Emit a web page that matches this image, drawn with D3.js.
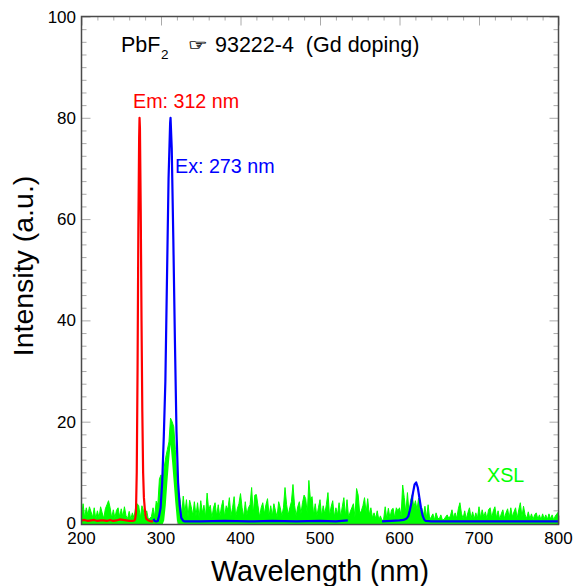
<!DOCTYPE html>
<html>
<head>
<meta charset="utf-8">
<script src="https://cdn.jsdelivr.net/npm/d3@7"></script>
<style>
html, body { margin: 0; background: #fff; }
text { font-family: "Liberation Sans", Arial, sans-serif; white-space: pre; }
</style>
</head>
<body>
<svg id="chart" width="574" height="586"></svg>
<script>
// XSL spectrum, one reading every 2 nm from 200 nm (20 readings a row)
const xslStart = 200, xslStep = 2;
const xslValues = [
  1.2,3.8,1.0,3.0,1.6,3.2,2.2,1.1,3.0,0.8, 2.4,1.0,3.2,2.0,0.9,2.8,3.6,4.4,3.0,1.0,
  2.6,1.0,2.5,3.0,1.2,2.8,1.2,3.2,1.4,0.9, 2.3,0.7,2.0,1.0,3.0,3.8,3.4,1.0,3.4,2.4,
  1.0,2.4,0.8,0.9,1.3,3.0,1.2,4.3,3.6,8.7, 9.5,7.0,11.0,13,14.5,16,20.7,20,19,14.5,
  8,6,4.6,1.6,5.3,2.0,4.6,1.2,4.5,3.2, 1.5,4.2,1.4,4.0,1.0,4.4,2.0,3.5,1.2,5.9,
  2.5,3.5,1.0,3.0,4.0,1.4,3.6,1.2,3.2,4.5, 1.2,3.4,2.6,5.0,1.4,3.0,5.2,1.2,2.8,3.8,
  5.8,3.0,1.2,4.2,1.6,3.0,3.6,7.0,1.8,5.5, 5.6,3.4,1.2,3.0,4.0,1.8,3.6,4.8,1.4,3.4,
  1.4,3.8,2.4,1.2,4.2,3.0,1.4,3.0,7.0,3.6, 1.6,3.0,4.2,7.6,3.5,1.4,3.2,4.2,1.8,4.0,
  5.5,4.8,1.8,8.4,4.6,5.2,1.6,3.8,1.4,3.0, 4.6,1.4,3.4,1.8,3.6,6.0,1.4,3.2,4.4,1.2,
  3.0,1.6,4.0,1.2,3.2,5.0,1.4,4.6,1.0,2.2, 3.0,3.8,1.2,6.8,5.5,1.8,2.4,3.4,5.0,2.0,
  4.8,1.6,3.0,1.0,2.0,0.9,2.4,0.6,1.4,0.5, 0.7,3.2,0.8,2.9,1.0,2.6,2.9,1.0,3.0,2.4,
  3.0,1.4,7.5,5.0,2.0,6.0,2.0,4.5,5.6,3.0, 4.4,2.6,4.9,2.2,3.0,1.4,3.3,1.0,3.6,0.7,
  1.2,1.8,0.6,2.0,1.0,0.8,1.6,0.6,0.7,1.2, 1.6,0.9,1.4,2.6,1.0,2.0,0.9,2.8,4.0,1.8,
  0.9,2.4,0.8,2.0,3.0,0.9,2.2,0.8,2.0,0.9, 3.2,1.0,2.6,1.2,2.2,0.8,2.6,3.0,1.0,2.4,
  3.2,1.0,2.4,0.7,1.8,2.6,0.9,2.0,2.8,1.0, 3.0,1.2,2.2,3.0,0.9,2.6,4.0,1.2,3.3,1.6,
  0.9,2.2,0.8,1.8,0.7,1.6,2.0,0.8,1.6,0.6, 1.8,0.8,1.6,0.7,1.8,0.8,1.6,0.6,1.4,1.8,
  2.2
];

// the XSL peak is hollow: lower edge of the green band under it
const xslHollowWavelength = [304,306,308,310,312,314,316,318,320];
const xslHollowValues = [0.5,3.5,8,12,15.5,12,8,4,0.5];

const emWavelength = [200,204,208,212,216,220,224,228,232,236,240,244,248,252,256,260,264,266.5,267.5,268.5,269.5,270.5,271.5,272.5,273,273.5,274.5,275.5,276.5,277.5,278.5,279.5,280.5,281.5,284,286,288,290];
const emValues = [0.5,0.6,0.4,0.5,0.6,0.4,0.5,0.5,0.4,0.6,0.4,0.5,0.7,0.6,0.5,0.4,0.4,0.5,0.8,2,10,30,58,76,80,78,62,40,22,10,5,3,1.5,0.8,0.5,0.4,0.3,0.3];

const exWavelength = [290.5,292,294,296,296.5,297.5,299.5,301.5,303.5,305.5,307.5,309.5,311.5,312,313.5,315.5,317.5,319.5,321.5,323.5,325.5,328,330,350,380,410,440,470,500,520,535];
const exValues = [0.8,0.4,0.3,0.4,0.8,1.3,3,8,17,28,48,68,79,80,74,56,36,18,8,3.5,1,0.4,0.3,0.3,0.4,0.3,0.4,0.3,0.4,0.3,0.5];
const exWavelength2 = [578,590,600,605,609,611,613,615,617,619,621,623,625,627,629,631,633,640,660,700,750,800];
const exValues2 = [0.3,0.4,0.5,0.6,0.9,1.3,2.5,4,6,7.6,8,7,5,3,1.5,0.7,0.4,0.3,0.3,0.3,0.3,0.3];

const xMajor = [200,300,400,500,600,700,800];
const yMajor = [0,20,40,60,80,100];

const svg = d3.select("#chart");
const margin = {top: 16.5, right: 15.5, bottom: 61.5, left: 81.5};
const width = 574 - margin.left - margin.right;
const height = 586 - margin.top - margin.bottom;
const frameColor = "#4a4a4a", tickColor = "#aaa";
const yBase = -0.3;  // frame sits just below the zero tick

const x = d3.scaleLinear().domain([200, 800]).range([margin.left, margin.left + width]);
const y = d3.scaleLinear().domain([yBase, 100]).range([margin.top + height, margin.top]);

const xMinor = d3.range(200, 801, 20).filter(d => !xMajor.includes(d));
const yMinor = d3.range(0, 100.1, 2.5).filter(d => !yMajor.includes(d));

// ticks point inward on all four sides
function tickAxis(axisFn, scale, values, size, where) {
  const g = svg.append("g")
    .attr("transform", where)
    .call(axisFn(scale).tickValues(values).tickSize(size).tickFormat(""));
  g.select(".domain").remove();
  g.selectAll("line").attr("stroke", tickColor).attr("stroke-width", 1);
}
const bottomT = `translate(0,${margin.top + height})`, topT = `translate(0,${margin.top})`;
const leftT = `translate(${margin.left},0)`, rightT = `translate(${margin.left + width},0)`;
tickAxis(d3.axisTop, x, xMajor, 9, bottomT);
tickAxis(d3.axisTop, x, xMinor, 4, bottomT);
tickAxis(d3.axisBottom, x, xMajor, 9, topT);
tickAxis(d3.axisBottom, x, xMinor, 4, topT);
tickAxis(d3.axisRight, y, yMajor, 9, leftT);
tickAxis(d3.axisRight, y, yMinor, 5, leftT);
tickAxis(d3.axisLeft, y, yMajor, 9, rightT);
tickAxis(d3.axisLeft, y, yMinor, 5, rightT);

const line = d3.line().x(d => x(d[0])).y(d => y(d[1]));
function drawLine(points, color, w) {
  svg.append("path")
    .datum(points)
    .attr("fill", "none")
    .attr("stroke", color)
    .attr("stroke-width", w)
    .attr("stroke-linejoin", "round")
    .attr("d", line);
}
const pairs = (xs, ys) => xs.map((d, i) => [d, ys[i]]);

const xslPoints = xslValues.map((v, i) => [xslStart + i * xslStep, v]);
const floorAt = w => {
  const i = xslHollowWavelength.indexOf(w);
  return i < 0 ? yBase : xslHollowValues[i];
};
svg.append("path")
  .datum(xslPoints)
  .attr("fill", "#00ff00")
  .attr("d", d3.area().x(d => x(d[0])).y0(d => y(floorAt(d[0]))).y1(d => y(d[1])));
drawLine(xslPoints, "#00ff00", 1);
drawLine(pairs(emWavelength, emValues), "#ff0000", 2.2);
drawLine(pairs(exWavelength, exValues), "#0000ff", 2.2);
drawLine(pairs(exWavelength2, exValues2), "#0000ff", 2.2);

svg.append("rect")
  .attr("x", margin.left).attr("y", margin.top)
  .attr("width", width).attr("height", height)
  .attr("fill", "none").attr("stroke", frameColor).attr("stroke-width", 1.5);

// tick labels
svg.append("g").selectAll("text").data(xMajor).join("text")
  .attr("x", d => x(d)).attr("y", 544)
  .attr("text-anchor", "middle").attr("font-size", 17).attr("fill", "#000")
  .text(d => d);
svg.append("g").selectAll("text").data(yMajor).join("text")
  .attr("x", 76).attr("y", d => y(d) + 6)
  .attr("text-anchor", "end").attr("font-size", 17).attr("fill", "#000")
  .text(d => d);

svg.append("text").attr("x", 320).attr("y", 581)
  .attr("text-anchor", "middle").attr("font-size", 28.8).text("Wavelength (nm)");
svg.append("text").attr("transform", "translate(33,266) rotate(-90)")
  .attr("text-anchor", "middle").attr("font-size", 28.5).text("Intensity (a.u.)");

// title line
svg.append("text").attr("x", 121).attr("y", 52).attr("font-size", 21.5).text("PbF");
svg.append("text").attr("x", 161).attr("y", 59).attr("font-size", 13.5).text("2");
svg.append("text").attr("transform", "translate(188,50) scale(1.15,0.8)").attr("font-size", 19)
  .style("font-family", "'DejaVu Sans'").attr("fill", "#888")
  .attr("stroke", "#222").attr("stroke-width", 0.5).text("\u261E");
svg.append("text").attr("x", 215).attr("y", 52).attr("font-size", 21.5)
  .text("93222-4  (Gd doping)");

svg.append("text").attr("x", 133).attr("y", 108).attr("font-size", 19.7).attr("fill", "#ff0000").text("Em: 312 nm");
svg.append("text").attr("x", 175).attr("y", 173).attr("font-size", 19.7).attr("fill", "#0000ff").text("Ex: 273 nm");
svg.append("text").attr("x", 487).attr("y", 482).attr("font-size", 19.7).attr("fill", "#00ff00").text("XSL");
</script>
</body>
</html>
